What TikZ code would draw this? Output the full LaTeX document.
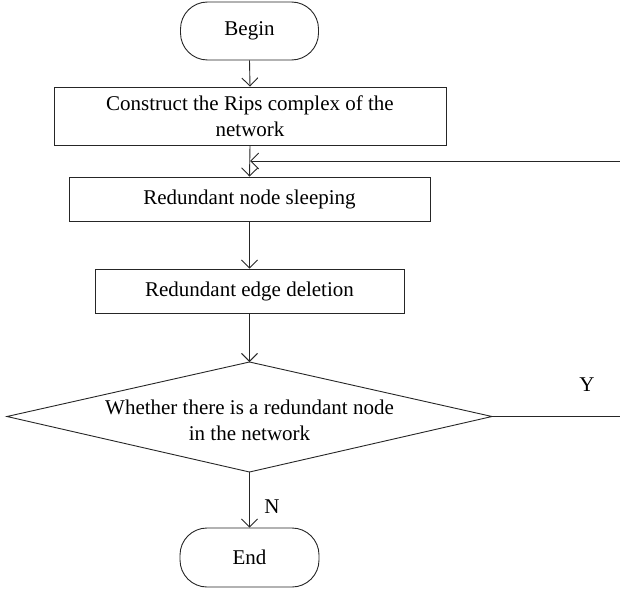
\documentclass[tikz,border=0pt]{standalone}
\usepackage{fontspec}
\setmainfont{Liberation Serif}
\usetikzlibrary{arrows.meta}
\begin{document}
\begin{tikzpicture}[x=1pt,y=-1pt,
  every node/.style={font=\fontsize{21}{26}\selectfont},
  line/.style={draw=black!85, line width=0.9pt},
  arr/.style={line, -{Straight Barb[length=8pt,width=16pt,line width=0.9pt]}},
  pill/.style={line, rounded corners=27pt, inner sep=0pt, align=center},
  proc/.style={line, inner sep=0pt, align=center},
  lbl/.style={inner sep=0pt}]
\useasboundingbox (0,0) rectangle (620,591);
\node[pill, minimum width=138pt, minimum height=58pt] (begin) at (249.5,31) {Begin};
\node[proc, minimum width=392pt, minimum height=58pt] (b1) at (250,116) {Construct the Rips complex of the\\network};
\node[proc, minimum width=361pt, minimum height=44pt] (b2) at (249.5,199) {Redundant node sleeping};
\node[proc, minimum width=309pt, minimum height=44pt] (b3) at (249.5,291) {Redundant edge deletion};
\coordinate (dtop) at (249.5,362);
\coordinate (dleft) at (7,416.5);
\coordinate (dright) at (492,416.5);
\coordinate (dbot) at (249.5,472);
\draw[line] (dtop) -- (dright) -- (dbot) -- (dleft) -- cycle;
\node[lbl, align=center] (dec) at (249.5,420) {Whether there is a redundant node\\in the network};
\node[pill, minimum width=139pt, minimum height=59pt] (end) at (249.5,557.5) {End};
\coordinate (merge) at (250,161);
\coordinate (rt) at (626,416.5);
\coordinate (rb) at (626,161);
\draw[arr] (begin.south) -- (b1.north);
\draw[arr] (b1.south) -- (b2.north);
\draw[arr] (b2.south) -- (b3.north);
\draw[arr] (b3.south) -- (dtop);
\draw[arr] (dbot) -- (end.north);
\draw[arr] (dright) -- (rt) -- (rb) -- (merge);
\node[lbl] (ylab) at (587,385) {Y};
\node[lbl] (nlab) at (272,507) {N};
\end{tikzpicture}
\end{document}
